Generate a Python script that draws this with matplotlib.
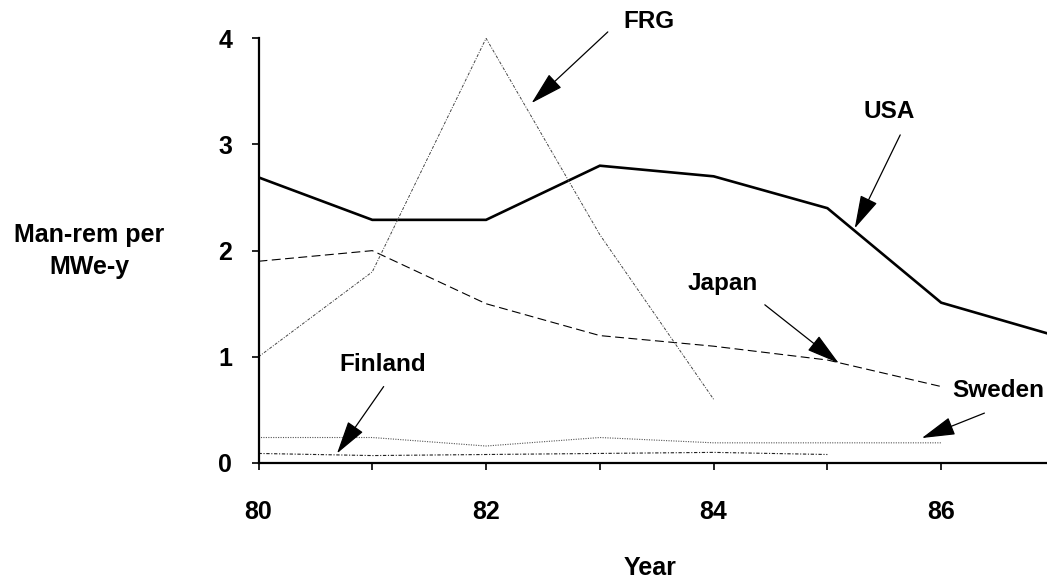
import matplotlib

matplotlib.use("Agg")
import matplotlib.pyplot as plt

years = [80, 81, 82, 83, 84, 85, 86, 87]
usa = [2.69, 2.29, 2.29, 2.80, 2.70, 2.40, 1.51, 1.20]

japan_years = [80, 81, 82, 83, 84, 85, 86]
japan = [1.90, 2.00, 1.50, 1.20, 1.10, 0.97, 0.72]

frg_years = [80, 81, 82, 83, 84]
frg = [1.00, 1.80, 4.00, 2.15, 0.60]

sweden_years = [80, 81, 82, 83, 84, 85, 86]
sweden = [0.24, 0.24, 0.16, 0.24, 0.19, 0.19, 0.19]

finland_years = [80, 81, 82, 83, 84, 85]
finland = [0.09, 0.07, 0.08, 0.09, 0.10, 0.08]

# label text, label position, arrow start, arrow tip (data coords)
labels = [
    ("FRG", (83.43, 4.16), (83.07, 4.06), (82.40, 3.39)),
    ("USA", (85.54, 3.31), (85.64, 3.09), (85.24, 2.21)),
    ("Japan", (84.08, 1.69), (84.45, 1.49), (85.10, 0.94)),
    ("Sweden", (86.50, 0.68), (86.38, 0.47), (85.83, 0.235)),
    ("Finland", (81.09, 0.93), (81.10, 0.72), (80.69, 0.09)),
]

FONT = "Liberation Sans"

fig = plt.figure(figsize=(10.47, 5.81), dpi=100)
ax = fig.add_axes([0.2469, 0.2031, 0.7531, 0.7310])

ax.plot(years, usa, color="black", lw=1.9, solid_joinstyle="miter")
ax.plot(japan_years, japan, color="black", lw=0.8, dashes=(8, 4))
ax.plot(frg_years, frg, color="#444444", lw=0.7, dashes=(3, 1.5, 1, 1.5))
ax.plot(sweden_years, sweden, color="#555555", lw=0.8, dashes=(1, 1.2))
ax.plot(finland_years, finland, color="#222222", lw=0.8, dashes=(3, 1.5, 1, 1.5))

for text, pos, start, tip in labels:
    ax.text(pos[0], pos[1], text, ha="center", va="center",
            fontsize=17.5, fontweight="bold", family=FONT)
    ax.annotate("", xy=tip, xytext=start,
                arrowprops=dict(arrowstyle="-|>,head_length=1.05,head_width=0.29",
                                color="black", lw=0.9, mutation_scale=20,
                                shrinkA=0, shrinkB=0))

ax.set_xlim(80, 86.93)
ax.set_ylim(0, 4)
ax.set_xticks(range(80, 87))
ax.set_xticklabels([str(y) if y % 2 == 0 else "" for y in range(80, 87)])
ax.set_yticks([0, 1, 2, 3, 4])

for side in ("top", "right"):
    ax.spines[side].set_visible(False)
for side in ("left", "bottom"):
    ax.spines[side].set_linewidth(1.6)

ax.tick_params(axis="x", direction="out", length=5, width=1.2, pad=22)
ax.tick_params(axis="y", direction="out", length=5, width=1.2, pad=14)
for lab in ax.get_xticklabels() + ax.get_yticklabels():
    lab.set_fontsize(18)
    lab.set_fontweight("bold")
    lab.set_family(FONT)

fig.text(89 / 1047, 0.568, "Man-rem per\nMWe-y", ha="center", va="center",
         fontsize=18, fontweight="bold", family=FONT, linespacing=1.4)
fig.text(650 / 1047, 13 / 581, "Year", ha="center", va="center",
         fontsize=18, fontweight="bold", family=FONT)

fig.savefig("out.png", dpi=100)
